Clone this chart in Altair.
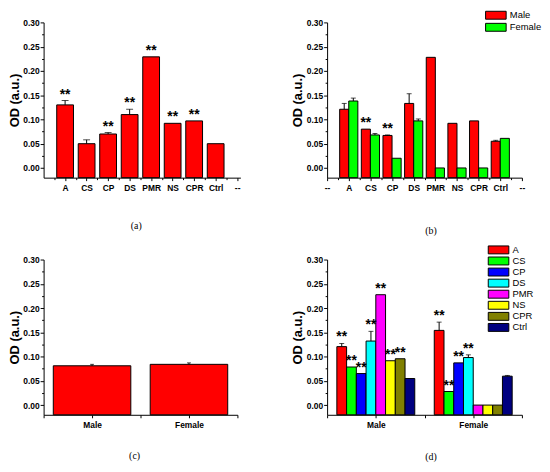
import json
import altair as alt
import pandas as pd

# ---------------- data ----------------
CATS = ["A", "CS", "CP", "DS", "PMR", "NS", "CPR", "Ctrl"]
COLORS8 = ["#FF0000", "#00FF00", "#0000FF", "#00FFFF", "#FF00FF", "#FFFF00", "#808000", "#000080"]
SEXES = ["Male", "Female"]
SEX_COLORS = ["#FF0000", "#00FF00"]
CAPTIONS = ["(a)", "(b)", "(c)", "(d)"]
Y_TITLE = "OD (a.u.)"

# panel (a): all samples
A_VAL = [0.130, 0.050, 0.070, 0.110, 0.229, 0.092, 0.097, 0.050]
A_ERR = [0.009, 0.008, 0.003, 0.011, 0.0, 0.0, 0.0, 0.0]
A_SIG = ["**", "", "**", "**", "**", "**", "**", ""]
A_LABELS = [""] + CATS + ["--"]

# panel (b): by sample, male vs female
B_MALE = [0.121, 0.080, 0.067, 0.133, 0.228, 0.092, 0.097, 0.055]
B_MALE_ERR = [0.012, 0.0, 0.001, 0.020, 0.0, 0.0, 0.0, 0.002]
B_MALE_SIG = ["", "**", "**", "", "", "", "", ""]
B_FEMALE = [0.138, 0.068, 0.020, 0.097, 0.0, 0.0, 0.0, 0.061]
B_FEMALE_ERR = [0.006, 0.003, 0.0, 0.004, 0.0, 0.0, 0.0, 0.0]
B_FEMALE_SIG = ["", "", "", "", "", "", "", ""]
B_LABELS = ["--"] + CATS + ["--"]

# panel (c): male vs female overall
C_VAL = [0.081, 0.084]
C_ERR = [0.003, 0.003]
C_LABELS = [""] + SEXES

# panel (d): by sex, each sample
D_MALE = [0.1205, 0.0785, 0.065, 0.132, 0.2275, 0.0914, 0.0955, 0.0548]
D_MALE_ERR = [0.0065, 0.0, 0.0, 0.020, 0.0, 0.0, 0.0, 0.0]
D_MALE_SIG = ["**", "**", "**", "**", "**", "**", "**", ""]
D_FEMALE = [0.154, 0.028, 0.087, 0.098, 0.0, 0.0, 0.0, 0.0596]
D_FEMALE_ERR = [0.017, 0.0, 0.0, 0.0056, 0.0, 0.0, 0.0, 0.0015]
D_FEMALE_SIG = ["**", "**", "**", "**", "", "", "", ""]

Y_MIN, Y_MAX = -0.02, 0.30
Y_TICKS = [0.0, 0.025, 0.05, 0.075, 0.10, 0.125, 0.15, 0.175, 0.20, 0.225, 0.25, 0.275, 0.30]

FONT = "Liberation Sans"
PH = 157

# ---------------- shared axis helpers ----------------
ys = alt.Scale(domain=[Y_MIN, Y_MAX], nice=False, zero=False)
MINOR_Y = "round(datum.value*1000) % 50 != 0"
y_axis = alt.Axis(
    values=Y_TICKS,
    labelExpr=f"{MINOR_Y} ? '' : format(datum.value, '.2f')",
    tickSize={"condition": {"test": MINOR_Y, "value": 2}, "value": 3.5},
    labelPadding=1, titlePadding=1.5, grid=False,
    labelOverlap=False, labelFlush=False,
)


def Y(field):
    return alt.Y(f"{field}:Q", scale=ys, axis=y_axis, title=Y_TITLE)


def make_x(domain, labels, values, minor_size):
    xs = alt.Scale(domain=domain, nice=False, zero=False)
    xa = alt.Axis(
        values=values,
        labelExpr=f"datum.value % 1 == 0 ? {json.dumps(labels)}[datum.value] : ''",
        tickSize={"condition": {"test": "datum.value % 1 != 0", "value": minor_size}, "value": 3},
        labelPadding=3, grid=False, labelOverlap=False, labelFlush=False,
    )

    def X(field):
        return alt.X(f"{field}:Q", scale=xs, axis=xa, title=None)
    return X


def caption(text, x, y):
    return alt.Chart(pd.DataFrame({"t": [text]})).mark_text(
        font="Liberation Serif", fontSize=10, baseline="middle", color="black"
    ).encode(text="t:N", x=alt.value(x), y=alt.value(y))


def error_layers(base, X, cap):
    eb = base.transform_filter("datum.err > 0")
    stem = eb.mark_rule(color="black", strokeWidth=1).encode(x=X("mid"), y=Y("value"), y2="top:Q")
    caps = eb.mark_tick(orient="horizontal", size=cap, thickness=1, color="black").encode(x=X("mid"), y=Y("top"))
    return stem, caps


def star_layer(base, X):
    return base.transform_filter("datum.sig != ''").mark_text(
        font=FONT, fontSize=14, fontWeight="bold", baseline="alphabetic", dy=-2, color="black"
    ).encode(x=X("mid"), y=Y("top"), text="sig:N")


# legend swatch: 8 px tall box, 2.6x wider than tall
SW = 8
def rect_legend(x, y, row_pad):
    return alt.Legend(
        title=None, orient="none", legendX=x + 1.6 * SW / 2 + 0.5, legendY=y, padding=0,
        symbolType="M-2.6,-1H2.6V1H-2.6Z", symbolSize=SW * SW,
        symbolStrokeColor="black", symbolStrokeWidth=1, symbolOpacity=1,
        labelFont=FONT, labelFontSize=9.5, labelFontWeight="normal", labelColor="black",
        labelOffset=1.6 * SW / 2 + 3, rowPadding=row_pad,
    )


# ---------------- panel (a) ----------------
df_a = pd.DataFrame({"cat": CATS, "pos": list(range(1, len(CATS) + 1)),
                     "value": A_VAL, "err": A_ERR, "sig": A_SIG})
Xa = make_x([0, 9.15], A_LABELS, [k / 2 for k in range(1, 19)], 2)
base_a = alt.Chart(df_a).transform_calculate(
    left="datum.pos - 0.39", right="datum.pos + 0.39", mid="datum.pos",
    top="datum.value + datum.err")
bars_a = base_a.mark_bar(fill="#FF0000", stroke="black", strokeWidth=1).encode(
    x=Xa("left"), x2="right:Q", y=Y("value"), y2=alt.datum(Y_MIN))
panel_a = alt.layer(bars_a, *error_layers(base_a, Xa, 7), star_layer(base_a, Xa),
                    caption(CAPTIONS[0], 93.7, 205.5)).properties(width=199, height=PH)

# ---------------- panel (b) ----------------
rows = []
for i, c in enumerate(CATS):
    rows.append({"cat": c, "pos": i + 1, "sex": "Male", "value": B_MALE[i], "err": B_MALE_ERR[i], "sig": B_MALE_SIG[i]})
    rows.append({"cat": c, "pos": i + 1, "sex": "Female", "value": B_FEMALE[i], "err": B_FEMALE_ERR[i], "sig": B_FEMALE_SIG[i]})
df_b = pd.DataFrame(rows)
Xb = make_x([0, 9], B_LABELS, [k / 2 for k in range(0, 19)], 2)
base_b = alt.Chart(df_b).transform_calculate(
    left="datum.sex == 'Male' ? datum.pos - 0.42 : datum.pos",
    right="datum.sex == 'Male' ? datum.pos : datum.pos + 0.42",
    mid="datum.sex == 'Male' ? datum.pos - 0.21 : datum.pos + 0.21",
    top="datum.value + datum.err")
bars_b = base_b.mark_bar(stroke="black", strokeWidth=1, opacity=1).encode(
    x=Xb("left"), x2="right:Q", y=Y("value"), y2=alt.datum(Y_MIN),
    color=alt.Color("sex:N", scale=alt.Scale(domain=SEXES, range=SEX_COLORS),
                    legend=rect_legend(159, -12, -0.8)))
panel_b = alt.layer(bars_b, *error_layers(base_b, Xb, 5), star_layer(base_b, Xb),
                    caption(CAPTIONS[1], 105, 210.5)).properties(width=197, height=PH)

# ---------------- panel (c) ----------------
df_c = pd.DataFrame({"sex": SEXES, "pos": [1, 2], "value": C_VAL, "err": C_ERR, "sig": ["", ""]})
Xc = make_x([0.5, 2.5], C_LABELS, [0.5, 1, 1.5, 2, 2.5], 3)
base_c = alt.Chart(df_c).transform_calculate(
    left="datum.pos - 0.4", right="datum.pos + 0.4", mid="datum.pos",
    top="datum.value + datum.err")
bars_c = base_c.mark_bar(fill="#FF0000", stroke="black", strokeWidth=1).encode(
    x=Xc("left"), x2="right:Q", y=Y("value"), y2=alt.datum(Y_MIN))
panel_c = alt.layer(bars_c, *error_layers(base_c, Xc, 4), caption(CAPTIONS[2], 92, 198.4)
                    ).properties(width=196, height=PH)

# ---------------- panel (d) ----------------
rows = []
for g, (sex, vals, errs, sigs) in enumerate([("Male", D_MALE, D_MALE_ERR, D_MALE_SIG),
                                              ("Female", D_FEMALE, D_FEMALE_ERR, D_FEMALE_SIG)]):
    for k, c in enumerate(CATS):
        rows.append({"sex": sex, "grp": g + 1, "k": k, "cat": c, "value": vals[k], "err": errs[k], "sig": sigs[k]})
df_d = pd.DataFrame(rows)
Xd = make_x([0.5, 2.5], C_LABELS, [0.5, 1, 1.5, 2, 2.5], 3)
base_d = alt.Chart(df_d).transform_calculate(
    left="datum.grp - 0.4 + 0.1 * datum.k", right="datum.grp - 0.3 + 0.1 * datum.k",
    mid="datum.grp - 0.35 + 0.1 * datum.k", top="datum.value + datum.err")
bars_d = base_d.mark_bar(stroke="black", strokeWidth=1, opacity=1).encode(
    x=Xd("left"), x2="right:Q", y=Y("value"), y2=alt.datum(Y_MIN),
    color=alt.Color("cat:N", scale=alt.Scale(domain=CATS, range=COLORS8),
                    legend=rect_legend(161.7, -14.5, -1.8)))
panel_d = alt.layer(bars_d, *error_layers(base_d, Xd, 5), star_layer(base_d, Xd),
                    caption(CAPTIONS[3], 105, 199.7)).properties(width=197, height=PH)

chart = alt.concat(
    panel_a, panel_b, panel_c, panel_d, columns=2,
    spacing={"row": 82.8, "column": 87.7}, bounds="flush",
).resolve_scale(color="independent").properties(
    padding={"left": 0, "top": 0, "right": 0, "bottom": 0}, background="white"
).configure_view(stroke=None).configure_axis(
    domainColor="black", tickColor="black", labelColor="black", titleColor="black",
    labelFont=FONT, labelFontSize=8.5, labelFontWeight="bold",
    titleFont=FONT, titleFontSize=13, titleFontWeight="bold",
    domainWidth=1, tickWidth=1,
)

chart.save("out.html", embed_options={"renderer": "svg", "actions": False})
